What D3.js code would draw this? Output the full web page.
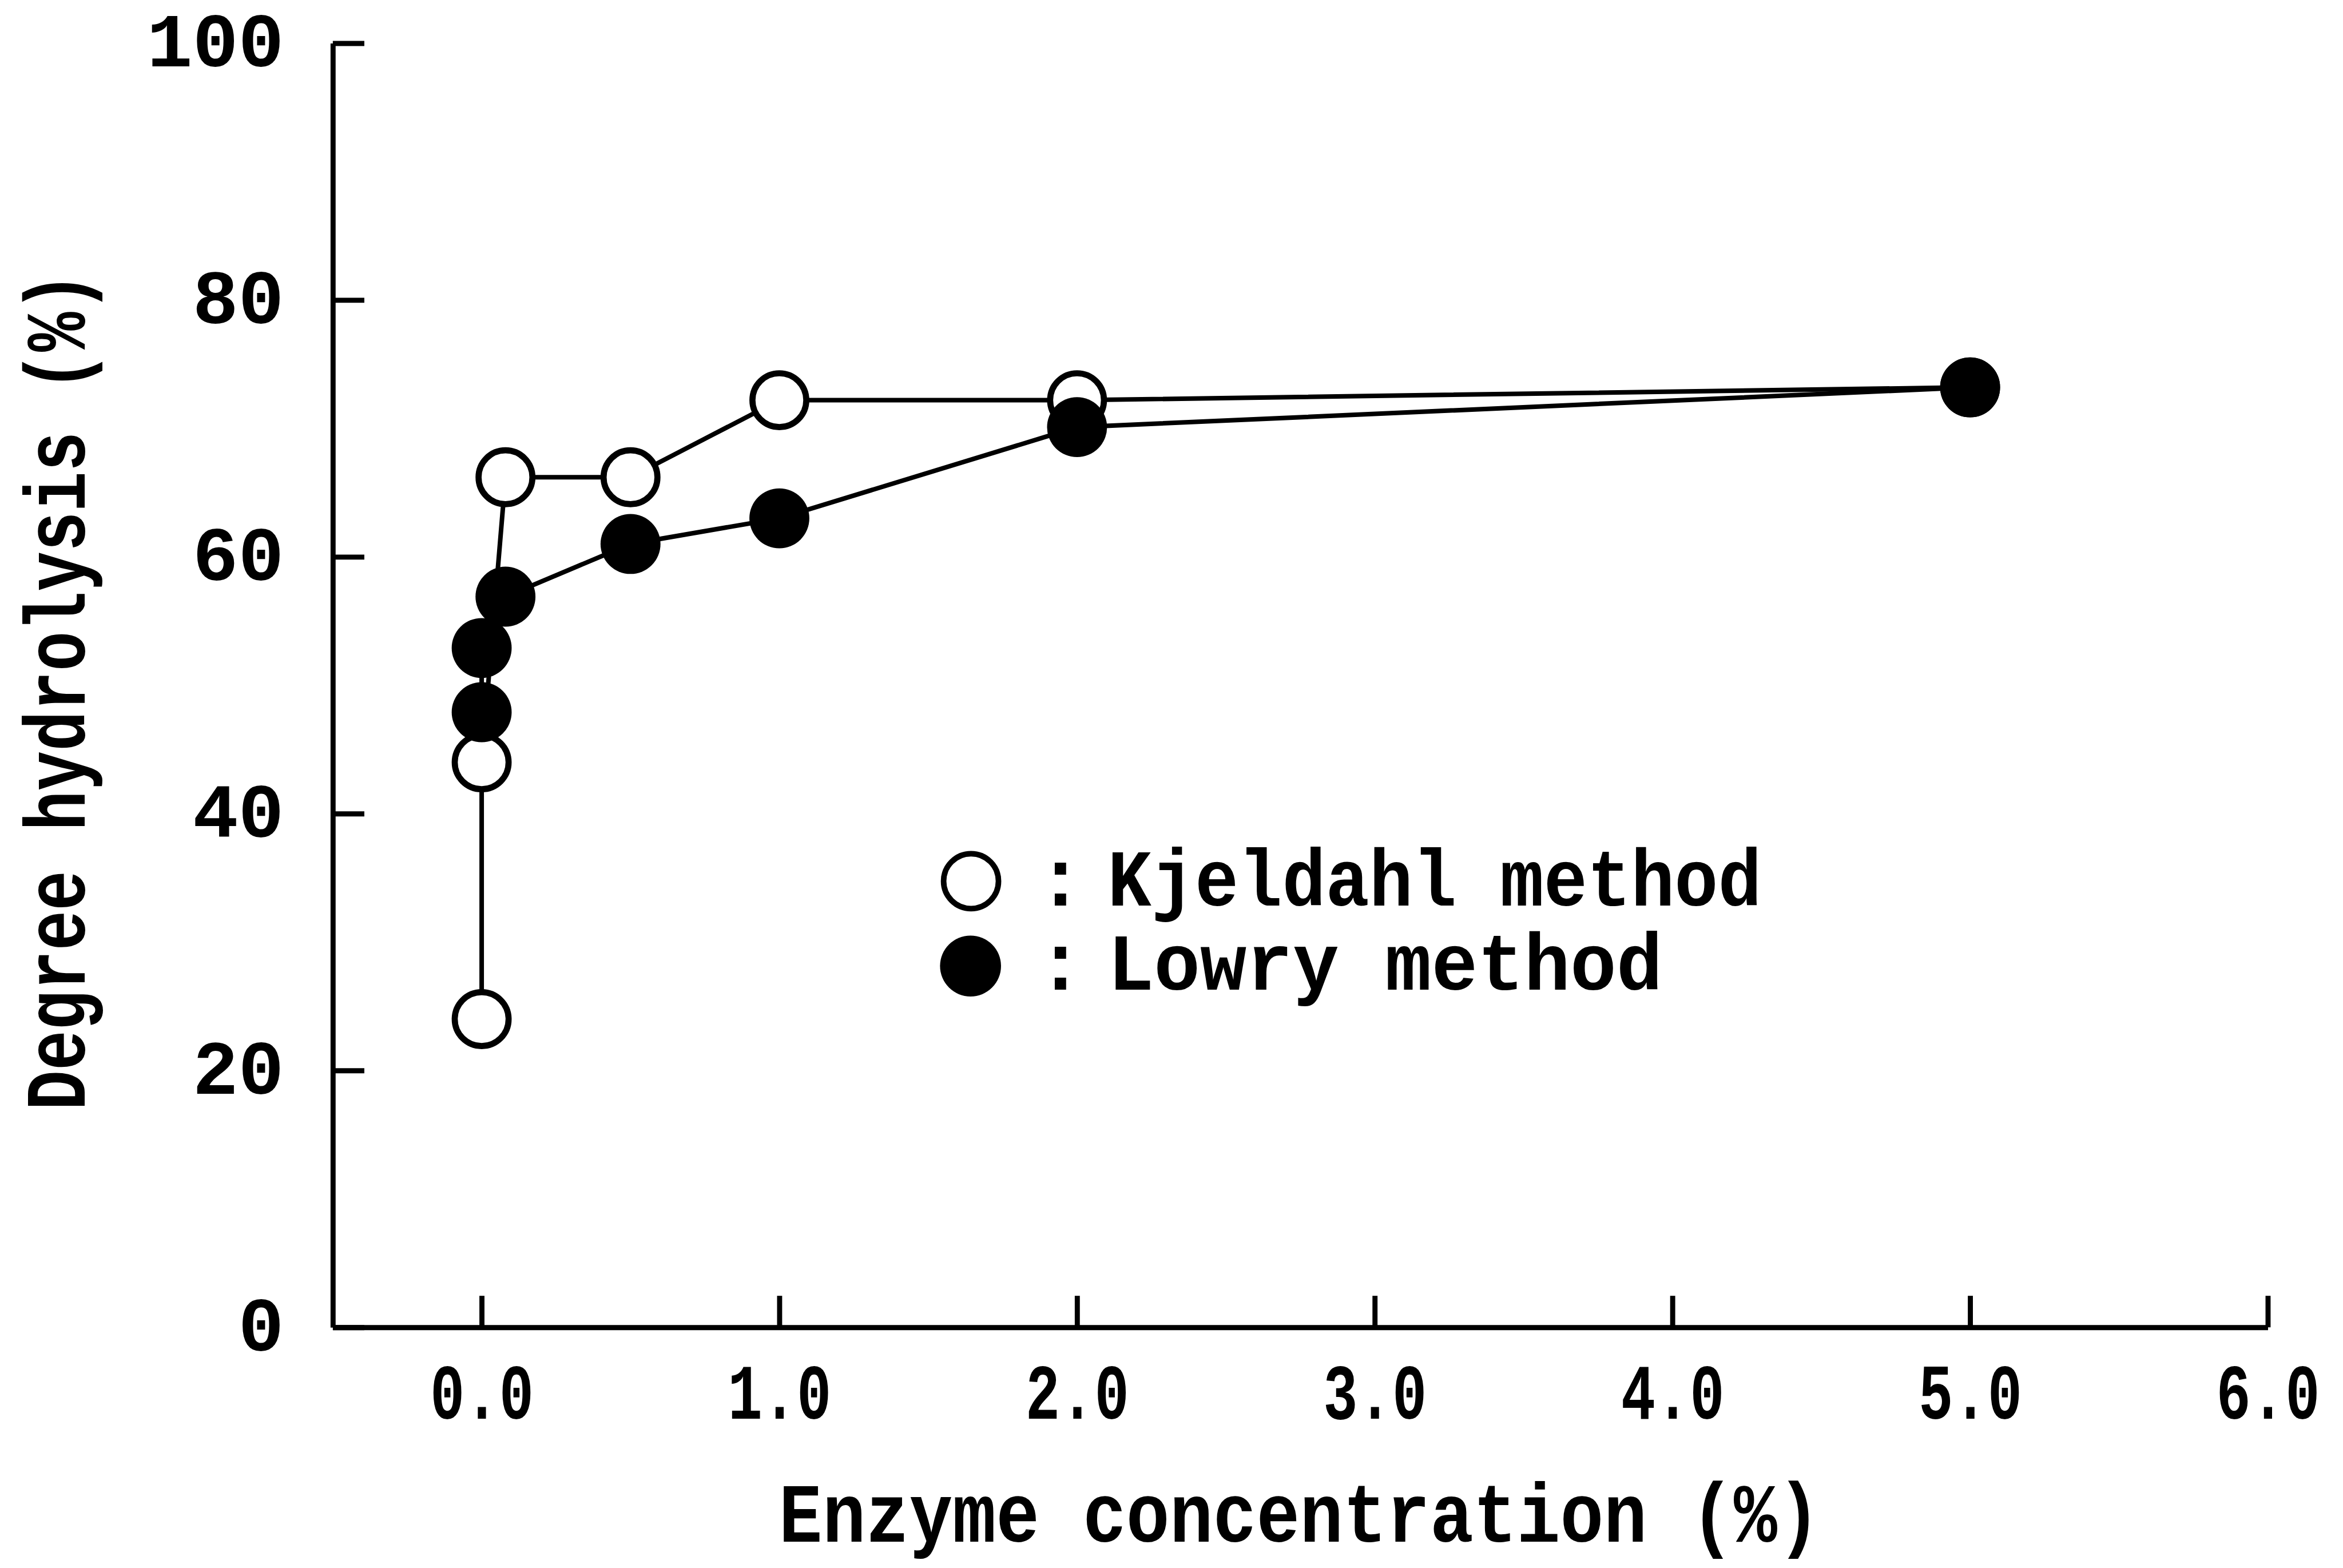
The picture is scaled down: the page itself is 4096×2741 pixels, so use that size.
<!DOCTYPE html>
<html>
<head>
<meta charset="utf-8">
<script src="https://cdn.jsdelivr.net/npm/d3@7"></script>
<style>
  html, body { margin: 0; padding: 0; background: #fff; }
  svg { display: block; }
</style>
</head>
<body>
<script>
// ---------------- data ----------------
const kjeldahlX = [0, 0, 0.08, 0.5, 1.0, 2.0, 5.0];
const kjeldahlY = [24, 44, 66.2, 66.2, 72.2, 72.2, 73.2];
const lowryX    = [0, 0, 0.08, 0.5, 1.0, 2.0, 5.0];
const lowryY    = [47.9, 52.9, 56.9, 61.0, 63.0, 70.1, 73.2];
const xTicks = [0, 1, 2, 3, 4, 5, 6];
const yTicks = [20, 40, 60, 80, 100];
const yZeroLabel = [0];
const legendLabels = ["Kjeldahl method", "Lowry method"];
const xTitle = "Enzyme concentration (%)";
const yTitle = "Degree hydrolysis (%)";

// ---------------- layout (reference pixel units, scaled to window) ----------------
const W = 4096, H = 2741;
const S = W / 4611;
const FONT = "'Liberation Mono', 'Courier New', monospace";

const svg = d3.select("body").append("svg")
  .attr("width", W).attr("height", H)
  .attr("viewBox", `0 0 ${W} ${H}`);
svg.append("rect").attr("width", W).attr("height", H).attr("fill", "#fff");

const g = svg.append("g").attr("transform", `scale(${S})`);

const x = d3.scaleLinear().domain([-0.5, 6]).range([655, 4463]);
const y = d3.scaleLinear().domain([0, 100]).range([2612, 85]);

const AXW = 10;

// y axis
const yAxis = d3.axisLeft(y)
  .tickValues(yZeroLabel.concat(yTicks))
  .tickSize(-62)
  .tickSizeOuter(0)
  .tickPadding(96)
  .tickFormat(d3.format("d"));
const gy = g.append("g").attr("transform", `translate(${x(-0.5)},0)`).call(yAxis);
gy.select(".domain").attr("stroke", "#000").attr("stroke-width", AXW);
gy.selectAll(".tick line").attr("stroke", "#000").attr("stroke-width", AXW);
gy.selectAll(".tick text")
  .attr("font-family", FONT).attr("font-weight", "bold")
  .attr("font-size", 150).attr("fill", "#000")
  .attr("dy", "0.3em")
  .attr("text-anchor", "end");

// x axis
const xAxis = d3.axisBottom(x)
  .tickValues(xTicks)
  .tickSize(-62)
  .tickSizeOuter(0)
  .tickFormat(d3.format(".1f"));
const gx = g.append("g").attr("transform", `translate(0,${y(0)})`).call(xAxis);
gx.select(".domain").attr("stroke", "#000").attr("stroke-width", AXW);
gx.selectAll(".tick line").attr("stroke", "#000").attr("stroke-width", AXW);
gx.selectAll(".tick text")
  .attr("font-family", FONT).attr("font-weight", "bold")
  .attr("font-size", 155).attr("fill", "#000")
  .attr("y", 180).attr("dy", 0)
  .attr("text-anchor", "middle")
  .attr("transform", "scale(0.73,1)");

// axis titles
g.append("text")
  .attr("transform", "translate(2558,3034) scale(0.868,1)")
  .attr("text-anchor", "middle")
  .attr("font-family", FONT).attr("font-weight", "bold")
  .attr("font-size", 164)
  .text(xTitle);

g.append("text")
  .attr("transform", "translate(167,1360) rotate(-90) scale(0.77,1)")
  .attr("text-anchor", "middle")
  .attr("font-family", FONT).attr("font-weight", "bold")
  .attr("font-size", 170)
  .text(yTitle);

// lines
const line = d3.line().x(d => x(d[0])).y(d => y(d[1]));
const kData = kjeldahlX.map((v, i) => [v, kjeldahlY[i]]);
const lData = lowryX.map((v, i) => [v, lowryY[i]]);

g.append("path").datum(kData).attr("d", line)
  .attr("fill", "none").attr("stroke", "#000").attr("stroke-width", 9);
g.append("path").datum(lData).attr("d", line)
  .attr("fill", "none").attr("stroke", "#000").attr("stroke-width", 9);

// markers
g.append("g").selectAll("circle").data(kData).join("circle")
  .attr("cx", d => x(d[0])).attr("cy", d => y(d[1]))
  .attr("r", 53).attr("fill", "#fff").attr("stroke", "#000").attr("stroke-width", 12);
g.append("g").selectAll("circle").data(lData).join("circle")
  .attr("cx", d => x(d[0])).attr("cy", d => y(d[1]))
  .attr("r", 59).attr("fill", "#000");

// legend
const legY = [1782, 1948];
const legScale = [0.905, 0.96];
const leg = g.append("g");
leg.append("circle").attr("cx", 1911).attr("cy", 1734).attr("r", 54)
  .attr("fill", "#fff").attr("stroke", "#000").attr("stroke-width", 11);
leg.append("circle").attr("cx", 1910).attr("cy", 1901).attr("r", 60)
  .attr("fill", "#000");
legendLabels.forEach((t, i) => {
  leg.append("text")
    .attr("x", 2087).attr("y", legY[i])
    .attr("text-anchor", "middle")
    .attr("font-family", FONT).attr("font-weight", "bold")
    .attr("font-size", 158)
    .text(":");
  leg.append("text")
    .attr("transform", `translate(2180,${legY[i]}) scale(${legScale[i]},1)`)
    .attr("font-family", FONT).attr("font-weight", "bold")
    .attr("font-size", 158)
    .text(t);
});
</script>
</body>
</html>
